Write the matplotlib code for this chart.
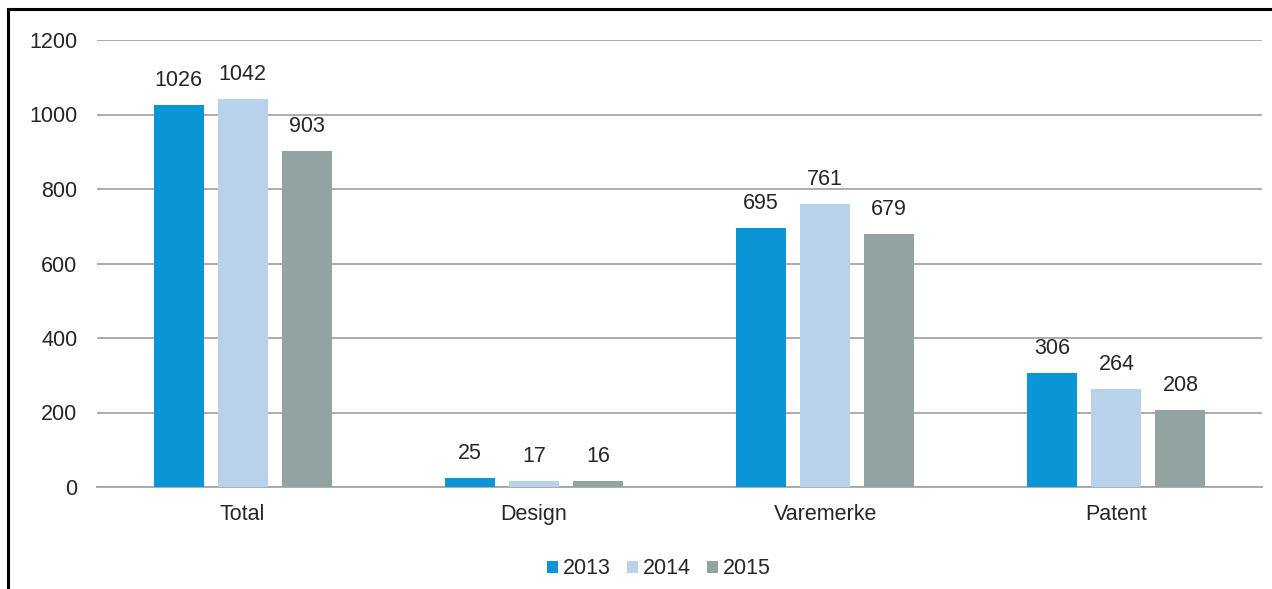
import matplotlib
matplotlib.use("Agg")
import matplotlib.pyplot as plt
import numpy as np
from matplotlib.lines import Line2D

plt.rcParams['font.family'] = ['Liberation Sans', 'DejaVu Sans']

categories = ["Total", "Design", "Varemerke", "Patent"]
years = ["2013", "2014", "2015"]
values_2013 = [1026, 25, 695, 306]
values_2014 = [1042, 17, 761, 264]
values_2015 = [903, 16, 679, 208]
colors = ["#0A96D6", "#B8D2EC", "#92A4A1"]

W, H = 1272, 589
fs = 15.5
fig = plt.figure(figsize=(W / 100, H / 100), dpi=100)
ax = fig.add_axes([97 / W, 1 - 487 / H, (1262 - 97) / W, (487 - 40) / H])

x = np.arange(len(categories))
bw = 0.172
step = 0.22
series = [values_2013, values_2014, values_2015]
for i, (vals, col, yr) in enumerate(zip(series, colors, years)):
    pos = x + (i - 1) * step
    bars = ax.bar(pos, vals, width=bw, color=col, label=yr, zorder=3)
    for b, v in zip(bars, vals):
        ax.annotate(str(v), (b.get_x() + b.get_width() / 2, v),
                    xytext=(0, 10), textcoords="offset points",
                    ha="center", va="bottom", fontsize=fs, color="#262626")

ax.set_xlim(-0.5, len(categories) - 0.5)
ax.set_ylim(0, 1200)
ax.set_yticks(range(0, 1201, 200))
ax.set_xticks(x)
ax.set_xticklabels(categories)
ax.tick_params(axis="both", length=0, labelsize=fs, labelcolor="#262626")
ax.tick_params(axis="y", pad=14)
ax.tick_params(axis="x", pad=12)
ax.grid(axis="y", color="#A6A6A6", linewidth=1.3, zorder=0)
for s in ["top", "right", "left"]:
    ax.spines[s].set_visible(False)
ax.spines["bottom"].set_color("#A6A6A6")
ax.spines["bottom"].set_linewidth(1.3)

fig.legend(loc="center", bbox_to_anchor=(659 / W, 1 - 569 / H), ncol=3,
           frameon=False, fontsize=fs, handlelength=0.5, handleheight=0.5,
           handletextpad=0.25, columnspacing=0.75, labelcolor="#262626")

# frame lines at top and left
fig.add_artist(Line2D([8 / W, 1], [1 - 9 / H, 1 - 9 / H], color="black",
                      linewidth=2.2, transform=fig.transFigure))
fig.add_artist(Line2D([8 / W, 8 / W], [0, 1 - 9 / H], color="black",
                      linewidth=2.2, transform=fig.transFigure))

fig.savefig("out.png", dpi=100)
